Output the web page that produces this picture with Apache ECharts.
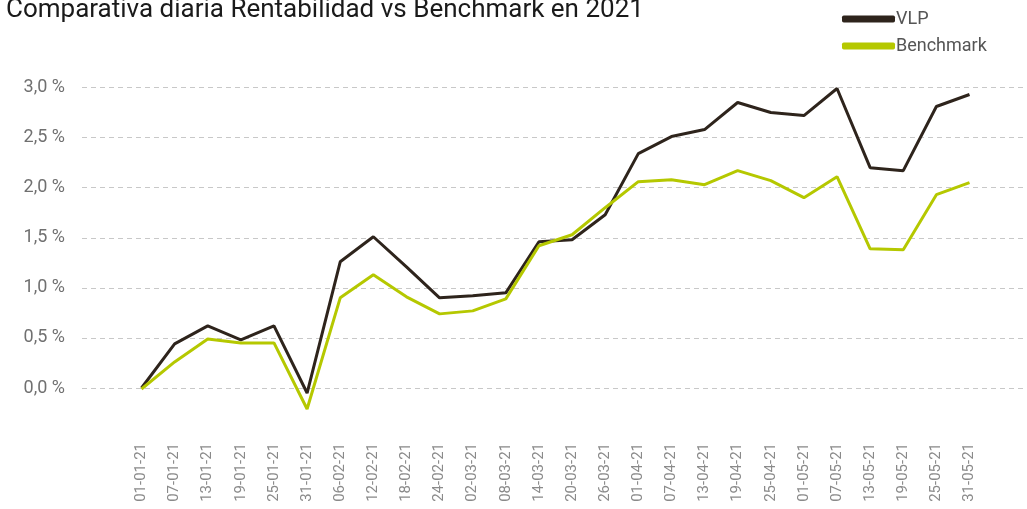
<!DOCTYPE html>
<html>
<head>
<meta charset="utf-8">
<script src="https://cdn.jsdelivr.net/npm/echarts@6/dist/echarts.min.js"></script>
<style>
  html, body { margin: 0; padding: 0; background: #fff; }
  #main { width: 1027px; height: 509px; }
</style>
</head>
<body>
<div id="main"></div>
<script>
// fechas del eje x
const fechas = ['01-01-21', '07-01-21', '13-01-21', '19-01-21', '25-01-21', '31-01-21',
    '06-02-21', '12-02-21', '18-02-21', '24-02-21', '02-03-21', '08-03-21', '14-03-21',
    '20-03-21', '26-03-21', '01-04-21', '07-04-21', '13-04-21', '19-04-21', '25-04-21',
    '01-05-21', '07-05-21', '13-05-21', '19-05-21', '25-05-21', '31-05-21'];

// rentabilidad en %
const vlp = [0.00, 0.44, 0.62, 0.48, 0.62, -0.05, 1.26, 1.51, 1.21, 0.90, 0.92, 0.95, 1.46,
    1.48, 1.73, 2.34, 2.51, 2.58, 2.85, 2.75, 2.72, 2.99, 2.20, 2.17, 2.81, 2.93];
const benchmark = [-0.01, 0.26, 0.49, 0.45, 0.45, -0.21, 0.90, 1.13, 0.91, 0.74, 0.77, 0.89, 1.42,
    1.53, 1.80, 2.06, 2.08, 2.03, 2.17, 2.07, 1.90, 2.11, 1.39, 1.38, 1.93, 2.05];

const yTicks = { min: 0, max: 3, interval: 0.5 };

const colores = {
    vlp: '#2e241c',
    benchmark: '#b5c800'
};

const fuente = 'Roboto, "DejaVu Sans", sans-serif';

const option = {
    animation: false,
    title: {
        text: 'Comparativa diaria Rentabilidad vs Benchmark en 2021',
        left: 1,
        top: -8,
        textStyle: { fontFamily: fuente, fontSize: 26, fontWeight: 'normal', color: '#1a1a1a' }
    },
    legend: {
        orient: 'vertical',
        left: 837,
        top: 5,
        itemWidth: 53,
        itemHeight: 7,
        itemGap: 9,
        icon: 'roundRect',
        textStyle: { fontFamily: fuente, fontSize: 18, color: '#555', padding: [0, 0, 0, -4] },
        data: ['VLP', 'Benchmark']
    },
    grid: [
        // rejilla ancha solo para las lineas discontinuas
        { left: 82, right: 0, top: 87.5, bottom: 121 },
        // rejilla de las series
        { left: 141.5, right: 57.5, top: 87.5, bottom: 121 }
    ],
    xAxis: [
        { gridIndex: 0, type: 'value', min: 0, max: 1, show: false },
        {
            gridIndex: 1,
            type: 'category',
            data: fechas,
            boundaryGap: false,
            axisLine: { show: false },
            axisTick: { show: false },
            axisLabel: {
                rotate: 90,
                margin: 55,
                interval: 0,
                fontFamily: fuente,
                fontSize: 15,
                color: '#8a8a8a'
            }
        }
    ],
    yAxis: [
        {
            gridIndex: 0,
            type: 'value',
            min: yTicks.min,
            max: yTicks.max,
            interval: yTicks.interval,
            axisLine: { show: false },
            axisTick: { show: false },
            axisLabel: {
                margin: 17,
                fontFamily: fuente,
                fontSize: 18,
                color: '#707070',
                formatter: v => v.toFixed(1).replace('.', ',') + ' %'
            },
            splitLine: { lineStyle: { color: '#c8c8c8', width: 1, type: [5, 4] } }
        },
        {
            gridIndex: 1,
            type: 'value',
            min: yTicks.min,
            max: yTicks.max,
            interval: yTicks.interval,
            show: false
        }
    ],
    series: [
        {
            name: 'VLP',
            type: 'line',
            xAxisIndex: 1,
            yAxisIndex: 1,
            data: vlp,
            clip: false,
            showSymbol: false,
            color: colores.vlp,
            lineStyle: { width: 3, color: colores.vlp }
        },
        {
            name: 'Benchmark',
            type: 'line',
            xAxisIndex: 1,
            yAxisIndex: 1,
            data: benchmark,
            clip: false,
            showSymbol: false,
            color: colores.benchmark,
            lineStyle: { width: 3, color: colores.benchmark }
        }
    ]
};

let plot = echarts.init(document.querySelector('#main'));
plot.setOption(option);
</script>
</body>
</html>
